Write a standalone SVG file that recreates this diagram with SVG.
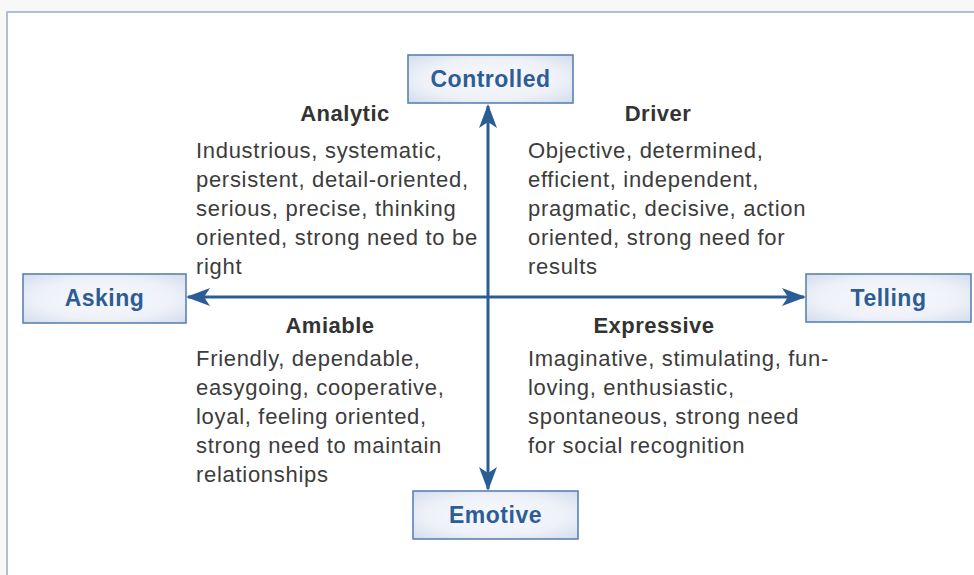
<svg xmlns="http://www.w3.org/2000/svg" width="974" height="575" viewBox="0 0 974 575">
  <style>
    .box { stroke: #5b82b4; stroke-width: 1.6; fill: url(#boxFill); }
    .boxlabel { font-family: "Liberation Sans", Arial, sans-serif; font-weight: bold; font-size: 23px; letter-spacing: 0.5px; fill: #2d5d96; text-anchor: middle; }
    .head { font-family: "Liberation Sans", Arial, sans-serif; font-weight: bold; font-size: 22px; letter-spacing: 0.5px; fill: #333333; text-anchor: middle; }
    .body { font-family: "Liberation Sans", Arial, sans-serif; font-size: 22px; letter-spacing: 0.7px; fill: #3c3c3c; }
    .axis { stroke: #2b5d95; stroke-width: 3; fill: none; }
  </style>
  <defs>
    <radialGradient id="boxFill" cx="50%" cy="50%" r="70%">
      <stop offset="0%" stop-color="#f7f8fc"/>
      <stop offset="60%" stop-color="#eef1f8"/>
      <stop offset="100%" stop-color="#d3dcec"/>
    </radialGradient>
    <marker id="head" viewBox="0 0 24 18" refX="22" refY="9" markerWidth="24" markerHeight="18" markerUnits="userSpaceOnUse" orient="auto-start-reverse">
      <path d="M0,0 L24,9 L0,18 L6,9 Z" fill="#2b5d95"/>
    </marker>
  </defs>

  <!-- page background and frame -->
  <rect x="0" y="0" width="974" height="575" fill="#f8f8f8"/>
  <rect x="7" y="12" width="980" height="580" fill="#ffffff" stroke="#aebfd6" stroke-width="2"/>

  <!-- axes -->
  <g id="connectors">
    <line class="axis" x1="488" y1="489" x2="488" y2="106" marker-start="url(#head)" marker-end="url(#head)"/>
    <line class="axis" x1="188" y1="297" x2="804" y2="297" marker-start="url(#head)" marker-end="url(#head)"/>
  </g>

  <g id="controlled">
    <rect class="box" x="408" y="55" width="165" height="48"/>
    <text class="boxlabel" x="490.5" y="87">Controlled</text>
  </g>
  <g id="asking">
    <rect class="box" x="23" y="274" width="163" height="49"/>
    <text class="boxlabel" x="104.5" y="306">Asking</text>
  </g>
  <g id="telling">
    <rect class="box" x="806" y="274" width="165" height="48"/>
    <text class="boxlabel" x="888.5" y="306">Telling</text>
  </g>
  <g id="emotive">
    <rect class="box" x="413" y="491" width="165" height="48"/>
    <text class="boxlabel" x="495.5" y="523">Emotive</text>
  </g>

  <g id="analytic">
    <text class="head" x="345" y="121">Analytic</text>
    <text class="body" x="196" y="158">Industrious, systematic,</text>
    <text class="body" x="196" y="187">persistent, detail-oriented,</text>
    <text class="body" x="196" y="216">serious, precise, thinking</text>
    <text class="body" x="196" y="245">oriented, strong need to be</text>
    <text class="body" x="196" y="274">right</text>
  </g>
  <g id="driver">
    <text class="head" x="658" y="121">Driver</text>
    <text class="body" x="528" y="158">Objective, determined,</text>
    <text class="body" x="528" y="187">efficient, independent,</text>
    <text class="body" x="528" y="216">pragmatic, decisive, action</text>
    <text class="body" x="528" y="245">oriented, strong need for</text>
    <text class="body" x="528" y="274">results</text>
  </g>
  <g id="amiable">
    <text class="head" x="330" y="333">Amiable</text>
    <text class="body" x="196" y="366">Friendly, dependable,</text>
    <text class="body" x="196" y="395">easygoing, cooperative,</text>
    <text class="body" x="196" y="424">loyal, feeling oriented,</text>
    <text class="body" x="196" y="453">strong need to maintain</text>
    <text class="body" x="196" y="482">relationships</text>
  </g>
  <g id="expressive">
    <text class="head" x="654" y="333">Expressive</text>
    <text class="body" x="528" y="366">Imaginative, stimulating, fun-</text>
    <text class="body" x="528" y="395">loving, enthusiastic,</text>
    <text class="body" x="528" y="424">spontaneous, strong need</text>
    <text class="body" x="528" y="453">for social recognition</text>
  </g>
</svg>
